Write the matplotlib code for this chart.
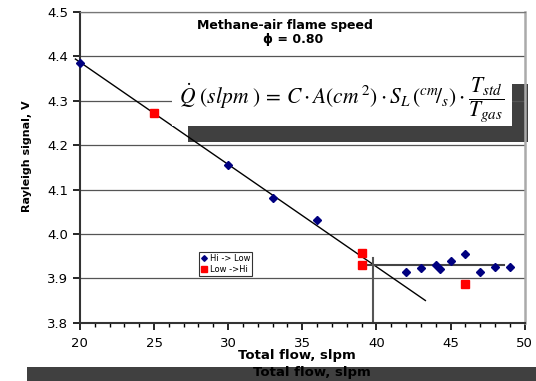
import matplotlib
matplotlib.use("Agg")
import matplotlib.pyplot as plt
from matplotlib.patches import Rectangle
from matplotlib.ticker import MultipleLocator

plt.rcParams['font.family'] = ['DejaVu Sans']
plt.rcParams['mathtext.fontset'] = 'stix'

# Hi -> Low sweep
hi_x = [20, 30, 33, 36, 42, 43, 44, 44.3, 45, 46, 47, 48, 49]
hi_y = [4.385, 4.155, 4.082, 4.031, 3.914, 3.924, 3.930, 3.922, 3.939, 3.954, 3.915, 3.925, 3.925]
# Low -> Hi sweep
lo_x = [25, 39, 39, 46]
lo_y = [4.273, 3.958, 3.930, 3.888]

# linear fit and plateau / crossover lines
fit_x = [19.7, 43.3]
fit_y = [4.394, 3.850]
plat_x = [38.9, 48.6]
plat_y = [3.931, 3.931]
cross_x = [39.8, 39.8]
cross_y = [3.80, 3.945]

fig = plt.figure(figsize=(5.36, 3.81), dpi=100)
ax = fig.add_axes([0.149, 0.153, 0.830, 0.8155])

ax.set_xlim(20, 50)
ax.set_ylim(3.8, 4.5)
ax.xaxis.set_major_locator(MultipleLocator(5))
ax.xaxis.set_minor_locator(MultipleLocator(1))
ax.yaxis.set_major_locator(MultipleLocator(0.1))
ax.yaxis.set_major_formatter(matplotlib.ticker.FormatStrFormatter('%.1f'))
ax.tick_params(axis='both', which='major', direction='out', length=5, width=1.2,
               labelsize=9.5, colors='black')
ax.tick_params(axis='x', which='minor', direction='out', length=3, width=1)
ax.tick_params(axis='y', which='minor', left=False)
ax.tick_params(axis='x', pad=5)

ax.grid(axis='y', which='major', color='#555555', lw=0.9, zorder=0.5)
ax.set_axisbelow(True)
for s in ['left', 'bottom']:
    ax.spines[s].set_color('#333333')
    ax.spines[s].set_linewidth(1.5)
ax.spines['top'].set_color('#777777')
ax.spines['top'].set_linewidth(0.9)
ax.spines['right'].set_color('#aaaaaa')
ax.spines['right'].set_linewidth(1.8)

ax.plot(fit_x, fit_y, color='black', lw=1.0, zorder=2, clip_on=False)
ax.plot(plat_x, plat_y, color='#444444', lw=1.5, zorder=2)
ax.plot(cross_x, cross_y, color='#555555', lw=1.5, zorder=2)

ax.plot(hi_x, hi_y, linestyle='none', marker='D', ms=3.6, color='#000080',
        label='Hi -> Low', zorder=5, clip_on=False)
ax.plot(lo_x, lo_y, linestyle='none', marker='s', ms=5.5, color='#ff0000',
        label='Low ->Hi', zorder=5)

leg = ax.legend(loc='upper left', bbox_to_anchor=(0.267, 0.228), borderaxespad=0,
                fontsize=6, frameon=True, fancybox=False, handlelength=0.8,
                handletextpad=0.3, borderpad=0.25, labelspacing=0.2,
                markerscale=0.8)
leg.get_frame().set_edgecolor('black')
leg.get_frame().set_linewidth(0.8)

# formula box with drop shadow
ax.add_patch(Rectangle((0.243, 0.5816), 0.764, 0.1864, transform=ax.transAxes,
                       facecolor='#404040', edgecolor='none', zorder=0.2, clip_on=False))
ax.add_patch(Rectangle((0.207, 0.633), 0.764, 0.187, transform=ax.transAxes,
                       facecolor='white', edgecolor='none', zorder=3))
ax.text(0.589, 0.717,
        r'$\dot{Q}\ (slpm\ )\, =\, C\cdot A(cm^{\,2})\cdot S_{L}\,(^{cm}\!/_{s})\cdot \dfrac{T_{std}}{T_{gas}}$',
        transform=ax.transAxes, ha='center', va='center', fontsize=15.5, zorder=4)

ax.text(0.461, 0.958, 'Methane-air flame speed', transform=ax.transAxes,
        ha='center', va='center', fontsize=9, fontweight='bold')
ax.text(0.479, 0.91, 'ϕ = 0.80', transform=ax.transAxes,
        ha='center', va='center', fontsize=9, fontweight='bold')

ax.set_xlabel('Total flow, slpm', fontsize=9.5, fontweight='bold')
ax.xaxis.set_label_coords(0.488, -0.107)
ax.xaxis.label.set_va('center')
ax.set_ylabel('Rayleigh signal, V', fontsize=8, fontweight='bold')
ax.yaxis.set_label_coords(-0.119, 0.537)
ax.yaxis.label.set_va('center')

# dark band along the bottom with the repeated axis title
fig.patches.append(Rectangle((0.05, 0.0), 0.95, 0.0367, transform=fig.transFigure,
                             facecolor='#404040', edgecolor='none', zorder=0))
fig.text(0.582, 0.021, 'Total flow, slpm', ha='center', va='center',
         fontsize=9.5, fontweight='bold', color='black')

fig.savefig('out.png', dpi=100)
